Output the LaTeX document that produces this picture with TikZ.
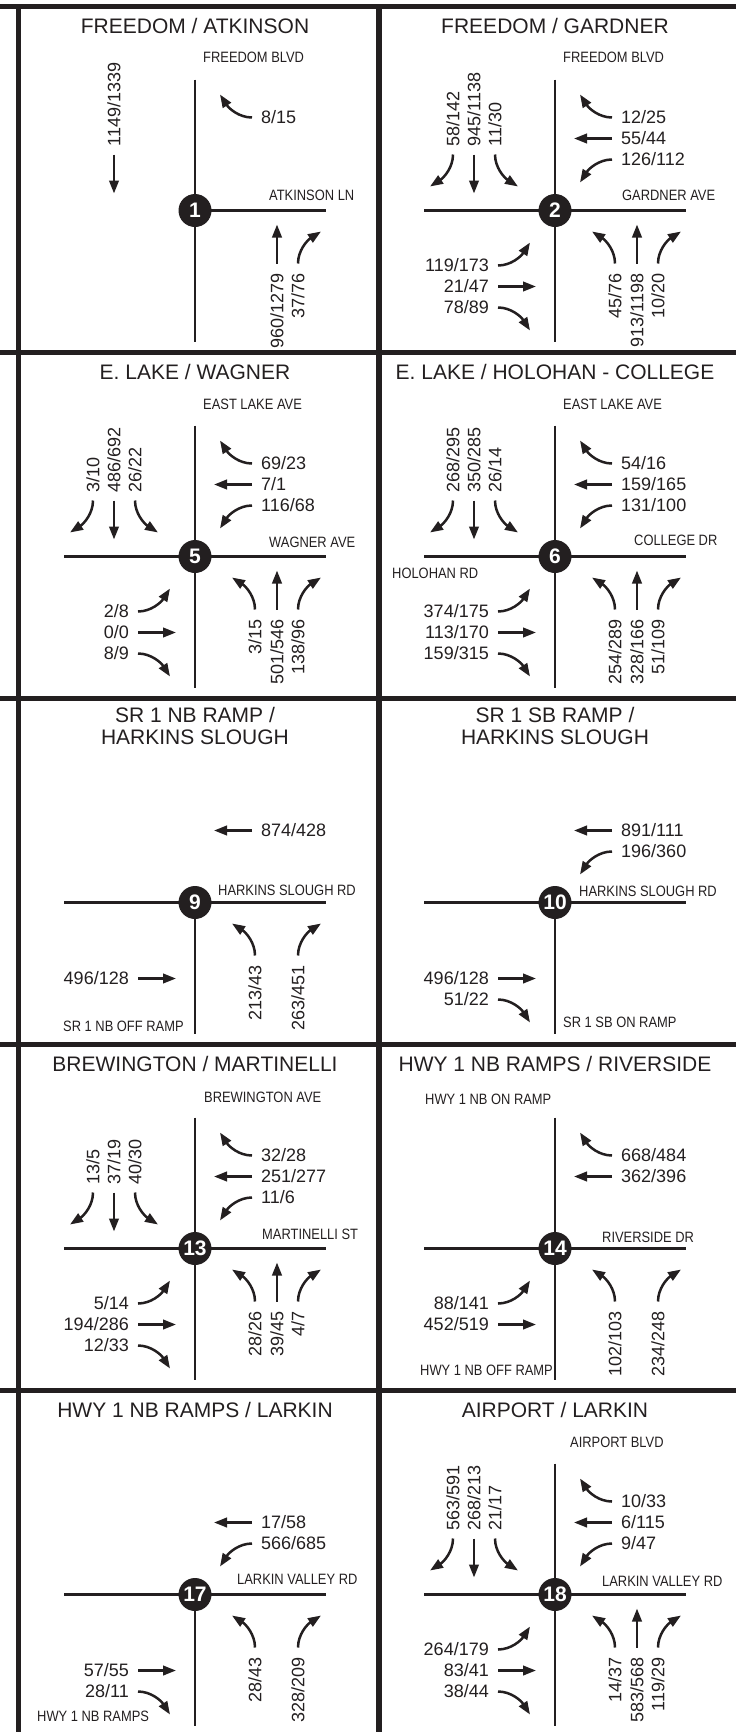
\documentclass[tikz,border=0pt]{standalone}
\usepackage{fontspec}
\setmainfont{Liberation Sans}
\newfontfamily\narrowfont[FakeStretch=0.86]{Liberation Sans}
\usetikzlibrary{arrows.meta}
\definecolor{ink}{HTML}{231F20}

\begin{document}
\begin{tikzpicture}[
    x=1pt, y=-1pt,
    panelline/.style={line width=5.5pt, draw=ink},
    road/.style={line width=2.5pt, draw=ink},
    mv/.style={line width=2.5pt, draw=ink, -{Triangle[length=13pt, width=9.5pt]}},
    junc/.style={circle, fill=ink, text=white, minimum size=33pt, inner sep=0pt, font=\bfseries\fontsize{21}{21}\selectfont},
    ttl/.style={font=\fontsize{21}{22}\selectfont, text=ink, inner sep=0pt, align=center},
    st/.style={font=\narrowfont\fontsize{15}{16}\selectfont, text=ink, inner sep=0pt},
    num/.style={font=\fontsize{18}{20}\selectfont, text=ink, inner sep=0pt},
    vnum/.style={num, rotate=90},
    pics/sbR/.style={code={\draw[mv] (-102,-56) .. controls (-102,-43) and (-111,-33) .. (-125,-24);
        \node[vnum, anchor=west] (-l) at (-102,-64) {#1};}},
    pics/sbT/.style={code={\draw[mv] (-81,-56) -- (-81,-17);
        \node[vnum, anchor=west] (-l) at (-81,-64) {#1};}},
    pics/sbL/.style={code={\draw[mv] (-60,-56) .. controls (-60,-43) and (-51,-33) .. (-37,-24);
        \node[vnum, anchor=west] (-l) at (-60,-64) {#1};}},
    pics/wbR/.style={code={\draw[mv] (57,-93) .. controls (44,-93) and (34,-102) .. (25,-116);
        \node[num, anchor=west] (-l) at (66,-93) {#1};}},
    pics/wbT/.style={code={\draw[mv] (57,-72) -- (19,-72);
        \node[num, anchor=west] (-l) at (66,-72) {#1};}},
    pics/wbL/.style={code={\draw[mv] (57,-51) .. controls (44,-51) and (34,-42) .. (25,-28);
        \node[num, anchor=west] (-l) at (66,-51) {#1};}},
    pics/nbL/.style={code={\draw[mv] (60,53) .. controls (60,40) and (51,30) .. (37,21);
        \node[vnum, anchor=east] (-l) at (60,63) {#1};}},
    pics/nbT/.style={code={\draw[mv] (82,53) -- (82,14);
        \node[vnum, anchor=east] (-l) at (82,63) {#1};}},
    pics/nbR/.style={code={\draw[mv] (103,53) .. controls (103,40) and (112,30) .. (126,21);
        \node[vnum, anchor=east] (-l) at (103,63) {#1};}},
    pics/ebL/.style={code={\draw[mv] (-57,55) .. controls (-44,55) and (-34,46) .. (-25,32);
        \node[num, anchor=east] (-l) at (-66,55) {#1};}},
    pics/ebT/.style={code={\draw[mv] (-57,76) -- (-19,76);
        \node[num, anchor=east] (-l) at (-66,76) {#1};}},
    pics/ebR/.style={code={\draw[mv] (-57,97) .. controls (-44,97) and (-34,106) .. (-25,120);
        \node[num, anchor=east] (-l) at (-66,97) {#1};}},
]
\useasboundingbox (0,0) rectangle (736,1732);

\draw[panelline] (0,6.5) -- (736,6.5);
\draw[panelline] (0,352.5) -- (736,352.5);
\draw[panelline] (0,698.5) -- (736,698.5);
\draw[panelline] (0,1044.5) -- (736,1044.5);
\draw[panelline] (0,1390.5) -- (736,1390.5);
\draw[panelline] (18.5,4) -- (18.5,1732);
\draw[panelline] (379,4) -- (379,1732);

\begin{scope}[shift={(195,210.5)}]
  \draw[road] (0,-131) -- (0,131) (0,0) -- (131,0);
  \node[junc] (n1) at (0,0) {1};
  \node[ttl] (t1) at (0,-184.5) {FREEDOM / ATKINSON};
  \node[st, anchor=west] (s1a) at (8,-153) {FREEDOM BLVD};
  \node[st, anchor=west] (s1b) at (74,-15) {ATKINSON LN};
  \pic (m1sbT) at (0,0) {sbT=1149/1339};
  \pic (m1wbR) at (0,0) {wbR=8/15};
  \pic (m1nbT) at (0,0) {nbT=960/1279};
  \pic (m1nbR) at (0,0) {nbR=37/76};
\end{scope}

\begin{scope}[shift={(555,210.5)}]
  \draw[road] (0,-131) -- (0,131) (-131,0) -- (131,0);
  \node[junc] (n2) at (0,0) {2};
  \node[ttl] (t2) at (0,-184.5) {FREEDOM / GARDNER};
  \node[st, anchor=west] (s2a) at (8,-153) {FREEDOM BLVD};
  \node[st, anchor=west] (s2b) at (67,-15) {GARDNER AVE};
  \pic (m2sbR) at (0,0) {sbR=58/142};
  \pic (m2sbT) at (0,0) {sbT=945/1138};
  \pic (m2sbL) at (0,0) {sbL=11/30};
  \pic (m2wbR) at (0,0) {wbR=12/25};
  \pic (m2wbT) at (0,0) {wbT=55/44};
  \pic (m2wbL) at (0,0) {wbL=126/112};
  \pic (m2nbL) at (0,0) {nbL=45/76};
  \pic (m2nbT) at (0,0) {nbT=913/1198};
  \pic (m2nbR) at (0,0) {nbR=10/20};
  \pic (m2ebL) at (0,0) {ebL=119/173};
  \pic (m2ebT) at (0,0) {ebT=21/47};
  \pic (m2ebR) at (0,0) {ebR=78/89};
\end{scope}

\begin{scope}[shift={(195,556.5)}]
  \draw[road] (0,-131) -- (0,131) (-131,0) -- (131,0);
  \node[junc] (n5) at (0,0) {5};
  \node[ttl] (t5) at (0,-184.5) {E. LAKE / WAGNER};
  \node[st, anchor=west] (s5a) at (8,-152) {EAST LAKE AVE};
  \node[st, anchor=west] (s5b) at (74,-14) {WAGNER AVE};
  \pic (m5sbR) at (0,0) {sbR=3/10};
  \pic (m5sbT) at (0,0) {sbT=486/692};
  \pic (m5sbL) at (0,0) {sbL=26/22};
  \pic (m5wbR) at (0,0) {wbR=69/23};
  \pic (m5wbT) at (0,0) {wbT=7/1};
  \pic (m5wbL) at (0,0) {wbL=116/68};
  \pic (m5nbL) at (0,0) {nbL=3/15};
  \pic (m5nbT) at (0,0) {nbT=501/546};
  \pic (m5nbR) at (0,0) {nbR=138/96};
  \pic (m5ebL) at (0,0) {ebL=2/8};
  \pic (m5ebT) at (0,0) {ebT=0/0};
  \pic (m5ebR) at (0,0) {ebR=8/9};
\end{scope}

\begin{scope}[shift={(555,556.5)}]
  \draw[road] (0,-131) -- (0,131) (-131,0) -- (131,0);
  \node[junc] (n6) at (0,0) {6};
  \node[ttl] (t6) at (0,-184.5) {E. LAKE / HOLOHAN - COLLEGE};
  \node[st, anchor=west] (s6a) at (8,-152) {EAST LAKE AVE};
  \node[st, anchor=west] (s6b) at (79,-16) {COLLEGE DR};
  \node[st, anchor=west] (s6c) at (-163,17) {HOLOHAN RD};
  \pic (m6sbR) at (0,0) {sbR=268/295};
  \pic (m6sbT) at (0,0) {sbT=350/285};
  \pic (m6sbL) at (0,0) {sbL=26/14};
  \pic (m6wbR) at (0,0) {wbR=54/16};
  \pic (m6wbT) at (0,0) {wbT=159/165};
  \pic (m6wbL) at (0,0) {wbL=131/100};
  \pic (m6nbL) at (0,0) {nbL=254/289};
  \pic (m6nbT) at (0,0) {nbT=328/166};
  \pic (m6nbR) at (0,0) {nbR=51/109};
  \pic (m6ebL) at (0,0) {ebL=374/175};
  \pic (m6ebT) at (0,0) {ebT=113/170};
  \pic (m6ebR) at (0,0) {ebR=159/315};
\end{scope}

\begin{scope}[shift={(195,902.5)}]
  \draw[road] (-131,0) -- (131,0) (0,0) -- (0,131);
  \node[junc] (n9) at (0,0) {9};
  \node[ttl] (t9) at (0,-176.5) {SR 1 NB RAMP /\\HARKINS SLOUGH};
  \node[st, anchor=west] (s9a) at (23,-12) {HARKINS SLOUGH RD};
  \node[st, anchor=west] (s9b) at (-132,124) {SR 1 NB OFF RAMP};
  \pic (m9wbT) at (0,0) {wbT=874/428};
  \pic (m9nbL) at (0,0) {nbL=213/43};
  \pic (m9nbR) at (0,0) {nbR=263/451};
  \pic (m9ebT) at (0,0) {ebT=496/128};
\end{scope}

\begin{scope}[shift={(555,902.5)}]
  \draw[road] (-131,0) -- (131,0) (0,0) -- (0,131);
  \node[junc] (n10) at (0,0) {10};
  \node[ttl] (t10) at (0,-176.5) {SR 1 SB RAMP /\\HARKINS SLOUGH};
  \node[st, anchor=west] (s10a) at (24,-11) {HARKINS SLOUGH RD};
  \node[st, anchor=west] (s10b) at (8,120) {SR 1 SB ON RAMP};
  \pic (m10wbT) at (0,0) {wbT=891/111};
  \pic (m10wbL) at (0,0) {wbL=196/360};
  \pic (m10ebT) at (0,0) {ebT=496/128};
  \pic (m10ebR) at (0,0) {ebR=51/22};
\end{scope}

\begin{scope}[shift={(195,1248.5)}]
  \draw[road] (0,-131) -- (0,131) (-131,0) -- (131,0);
  \node[junc] (n13) at (0,0) {13};
  \node[ttl] (t13) at (0,-184.5) {BREWINGTON / MARTINELLI};
  \node[st, anchor=west] (s13a) at (9,-151) {BREWINGTON AVE};
  \node[st, anchor=west] (s13b) at (67,-14) {MARTINELLI ST};
  \pic (m13sbR) at (0,0) {sbR=13/5};
  \pic (m13sbT) at (0,0) {sbT=37/19};
  \pic (m13sbL) at (0,0) {sbL=40/30};
  \pic (m13wbR) at (0,0) {wbR=32/28};
  \pic (m13wbT) at (0,0) {wbT=251/277};
  \pic (m13wbL) at (0,0) {wbL=11/6};
  \pic (m13nbL) at (0,0) {nbL=28/26};
  \pic (m13nbT) at (0,0) {nbT=39/45};
  \pic (m13nbR) at (0,0) {nbR=4/7};
  \pic (m13ebL) at (0,0) {ebL=5/14};
  \pic (m13ebT) at (0,0) {ebT=194/286};
  \pic (m13ebR) at (0,0) {ebR=12/33};
\end{scope}

\begin{scope}[shift={(555,1248.5)}]
  \draw[road] (0,-131) -- (0,131) (-131,0) -- (131,0);
  \node[junc] (n14) at (0,0) {14};
  \node[ttl] (t14) at (0,-184.5) {HWY 1 NB RAMPS / RIVERSIDE};
  \node[st, anchor=west] (s14a) at (-130,-149) {HWY 1 NB ON RAMP};
  \node[st, anchor=west] (s14b) at (47,-11) {RIVERSIDE DR};
  \node[st, anchor=east] (s14c) at (-2,122) {HWY 1 NB OFF RAMP};
  \pic (m14wbR) at (0,0) {wbR=668/484};
  \pic (m14wbT) at (0,0) {wbT=362/396};
  \pic (m14nbL) at (0,0) {nbL=102/103};
  \pic (m14nbR) at (0,0) {nbR=234/248};
  \pic (m14ebL) at (0,0) {ebL=88/141};
  \pic (m14ebT) at (0,0) {ebT=452/519};
\end{scope}

\begin{scope}[shift={(195,1594.5)}]
  \draw[road] (-131,0) -- (131,0) (0,0) -- (0,131);
  \node[junc] (n17) at (0,0) {17};
  \node[ttl] (t17) at (0,-184.5) {HWY 1 NB RAMPS / LARKIN};
  \node[st, anchor=west] (s17a) at (42,-15) {LARKIN VALLEY RD};
  \node[st, anchor=west] (s17b) at (-158,122) {HWY 1 NB RAMPS};
  \pic (m17wbT) at (0,0) {wbT=17/58};
  \pic (m17wbL) at (0,0) {wbL=566/685};
  \pic (m17nbL) at (0,0) {nbL=28/43};
  \pic (m17nbR) at (0,0) {nbR=328/209};
  \pic (m17ebT) at (0,0) {ebT=57/55};
  \pic (m17ebR) at (0,0) {ebR=28/11};
\end{scope}

\begin{scope}[shift={(555,1594.5)}]
  \draw[road] (0,-131) -- (0,131) (-131,0) -- (131,0);
  \node[junc] (n18) at (0,0) {18};
  \node[ttl] (t18) at (0,-184.5) {AIRPORT / LARKIN};
  \node[st, anchor=west] (s18a) at (15,-152) {AIRPORT BLVD};
  \node[st, anchor=west] (s18b) at (47,-13) {LARKIN VALLEY RD};
  \pic (m18sbR) at (0,0) {sbR=563/591};
  \pic (m18sbT) at (0,0) {sbT=268/213};
  \pic (m18sbL) at (0,0) {sbL=21/17};
  \pic (m18wbR) at (0,0) {wbR=10/33};
  \pic (m18wbT) at (0,0) {wbT=6/115};
  \pic (m18wbL) at (0,0) {wbL=9/47};
  \pic (m18nbL) at (0,0) {nbL=14/37};
  \pic (m18nbT) at (0,0) {nbT=583/568};
  \pic (m18nbR) at (0,0) {nbR=119/29};
  \pic (m18ebL) at (0,0) {ebL=264/179};
  \pic (m18ebT) at (0,0) {ebT=83/41};
  \pic (m18ebR) at (0,0) {ebR=38/44};
\end{scope}
\end{tikzpicture}
\end{document}
